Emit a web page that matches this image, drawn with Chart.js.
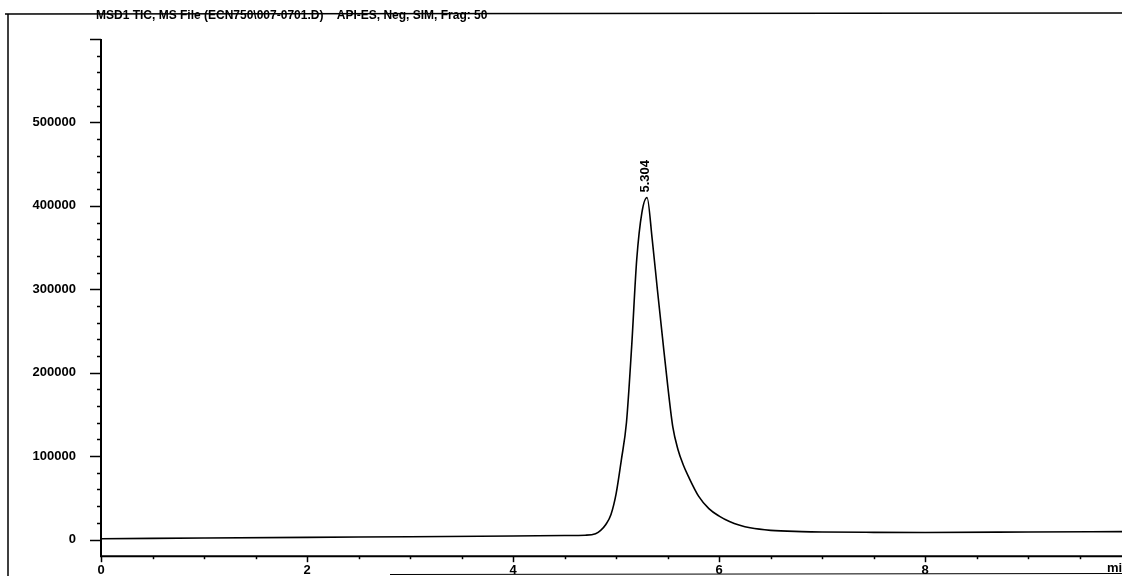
<!DOCTYPE html>
<html>
<head>
<meta charset="utf-8">
<script src="https://cdn.jsdelivr.net/npm/chart.js@4.4.0/dist/chart.umd.min.js"></script>
<style>
  html, body { margin: 0; padding: 0; background: #fff; overflow: hidden; }
  canvas { display: block; }
</style>
</head>
<body>
<canvas id="chart" width="1122" height="589"></canvas>
<script>
// Chromatogram data (retention time in min, abundance)
const times = [0, 1, 2, 3, 4, 4.5, 4.7, 4.8, 4.85, 4.9, 4.95, 5.0, 5.05, 5.1, 5.15, 5.2, 5.25, 5.3,
  5.35, 5.4, 5.45, 5.5, 5.55, 5.6, 5.65, 5.7, 5.8, 5.9, 6.0, 6.1, 6.2, 6.3, 6.5, 6.8, 7.0, 7.5, 8, 9, 9.91];
const signal = [1000, 1800, 2600, 3400, 4200, 4800, 5200, 7000, 11000, 18000, 30000, 55000, 95000, 140000, 230000, 336000, 392000, 410000,
  360000, 300000, 242000, 185000, 135000, 108000, 90000, 76000, 52000, 37000, 28000, 21500, 17000, 14000, 11000, 9500, 9000, 8600, 8500, 9000, 9500];

// Peak annotation
const peakTime = 5.304;
const peakValue = 410000;
const peakLabel = '5.304';

const title = 'MSD1 TIC, MS File (ECN750\\007-0701.D)    API-ES, Neg, SIM, Frag: 50';
const xUnit = 'min';

const fontFamily = '"Liberation Sans", Arial, sans-serif';

// Draw tick marks, frame, title and peak label
const decorations = {
  id: 'decorations',
  afterDraw(chart) {
    const ctx = chart.ctx;
    const x = chart.scales.x;
    const y = chart.scales.y;
    ctx.save();
    ctx.strokeStyle = '#000';

    // page frame
    ctx.lineWidth = 1.5;
    ctx.beginPath();
    ctx.moveTo(5, 14);
    ctx.lineTo(1122, 13);
    ctx.moveTo(8, 14);
    ctx.lineTo(8, 576);
    ctx.stroke();
    ctx.lineWidth = 1;
    ctx.beginPath();
    ctx.moveTo(390, 574.5);
    ctx.lineTo(1122, 573.5);
    ctx.stroke();

    // axes
    ctx.lineWidth = 2;
    ctx.beginPath();
    ctx.moveTo(x.left, y.top);
    ctx.lineTo(x.left, y.bottom);
    ctx.lineTo(x.right, y.bottom);
    ctx.stroke();

    // y ticks
    ctx.lineWidth = 1.5;
    y.ticks.forEach(t => {
      if (t.value < 0) return;
      const py = Math.round(y.getPixelForValue(t.value)) + 0.5;
      const len = Math.round(t.value) % 100000 === 0 ? 11 : 4;
      ctx.beginPath();
      ctx.moveTo(x.left - len, py);
      ctx.lineTo(x.left, py);
      ctx.stroke();
    });

    // x ticks
    x.ticks.forEach(t => {
      const px = Math.round(x.getPixelForValue(t.value)) + 0.5;
      const len = Math.round(t.value * 2) % 4 === 0 ? 6 : 3;
      ctx.beginPath();
      ctx.moveTo(px, y.bottom);
      ctx.lineTo(px, y.bottom + len);
      ctx.stroke();
    });

    ctx.fillStyle = '#000';
    ctx.font = 'bold 12px ' + fontFamily;
    ctx.textAlign = 'left';
    ctx.textBaseline = 'middle';
    ctx.fillText(title, 96, 16);

    ctx.font = 'bold 13px ' + fontFamily;
    ctx.textBaseline = 'top';
    ctx.fillText(xUnit, 1107, 562);

    // peak retention time label, rotated
    const px = x.getPixelForValue(peakTime) - 2;
    const py = y.getPixelForValue(peakValue) - 5;
    ctx.translate(px, py);
    ctx.rotate(-Math.PI / 2);
    ctx.font = 'bold 13px ' + fontFamily;
    ctx.textAlign = 'left';
    ctx.textBaseline = 'middle';
    ctx.fillText(peakLabel, 0, 0);
    ctx.restore();
  }
};

function buildPoints() {
  return times.map((t, i) => ({ x: t, y: signal[i] }));
}

new Chart(document.getElementById('chart').getContext('2d'), {
  type: 'line',
  data: {
    datasets: [{
      data: buildPoints(),
      borderColor: '#000',
      borderWidth: 1.6,
      pointRadius: 0,
      fill: false,
      cubicInterpolationMode: 'monotone'
    }]
  },
  options: {
    responsive: false,
    animation: false,
    devicePixelRatio: 1,
    layout: { padding: { left: 0, right: 0, top: 39, bottom: 0 } },
    plugins: {
      legend: { display: false },
      tooltip: { enabled: false }
    },
    scales: {
      x: {
        type: 'linear',
        min: 0,
        max: 9.91,
        border: { display: false },
        grid: { display: false, drawTicks: false },
        afterFit: s => { s.height = 20; },
        ticks: {
          stepSize: 0.5,
          autoSkip: false,
          maxRotation: 0,
          includeBounds: false,
          padding: 6,
          color: '#000',
          font: { family: fontFamily, size: 13, weight: 'bold' },
          callback: v => (Math.round(v * 2) % 4 === 0 ? String(v) : '')
        }
      },
      y: {
        type: 'linear',
        min: -20000,
        max: 600000,
        border: { display: false },
        grid: { display: false, drawTicks: false },
        afterFit: s => { s.width = 101; },
        ticks: {
          stepSize: 20000,
          autoSkip: false,
          includeBounds: false,
          padding: 25,
          color: '#000',
          font: { family: fontFamily, size: 13, weight: 'bold' },
          callback: v => (Math.round(v) % 100000 === 0 && v >= 0 && v <= 500000 ? String(v) : '')
        }
      }
    }
  },
  plugins: [decorations]
});
</script>
</body>
</html>
